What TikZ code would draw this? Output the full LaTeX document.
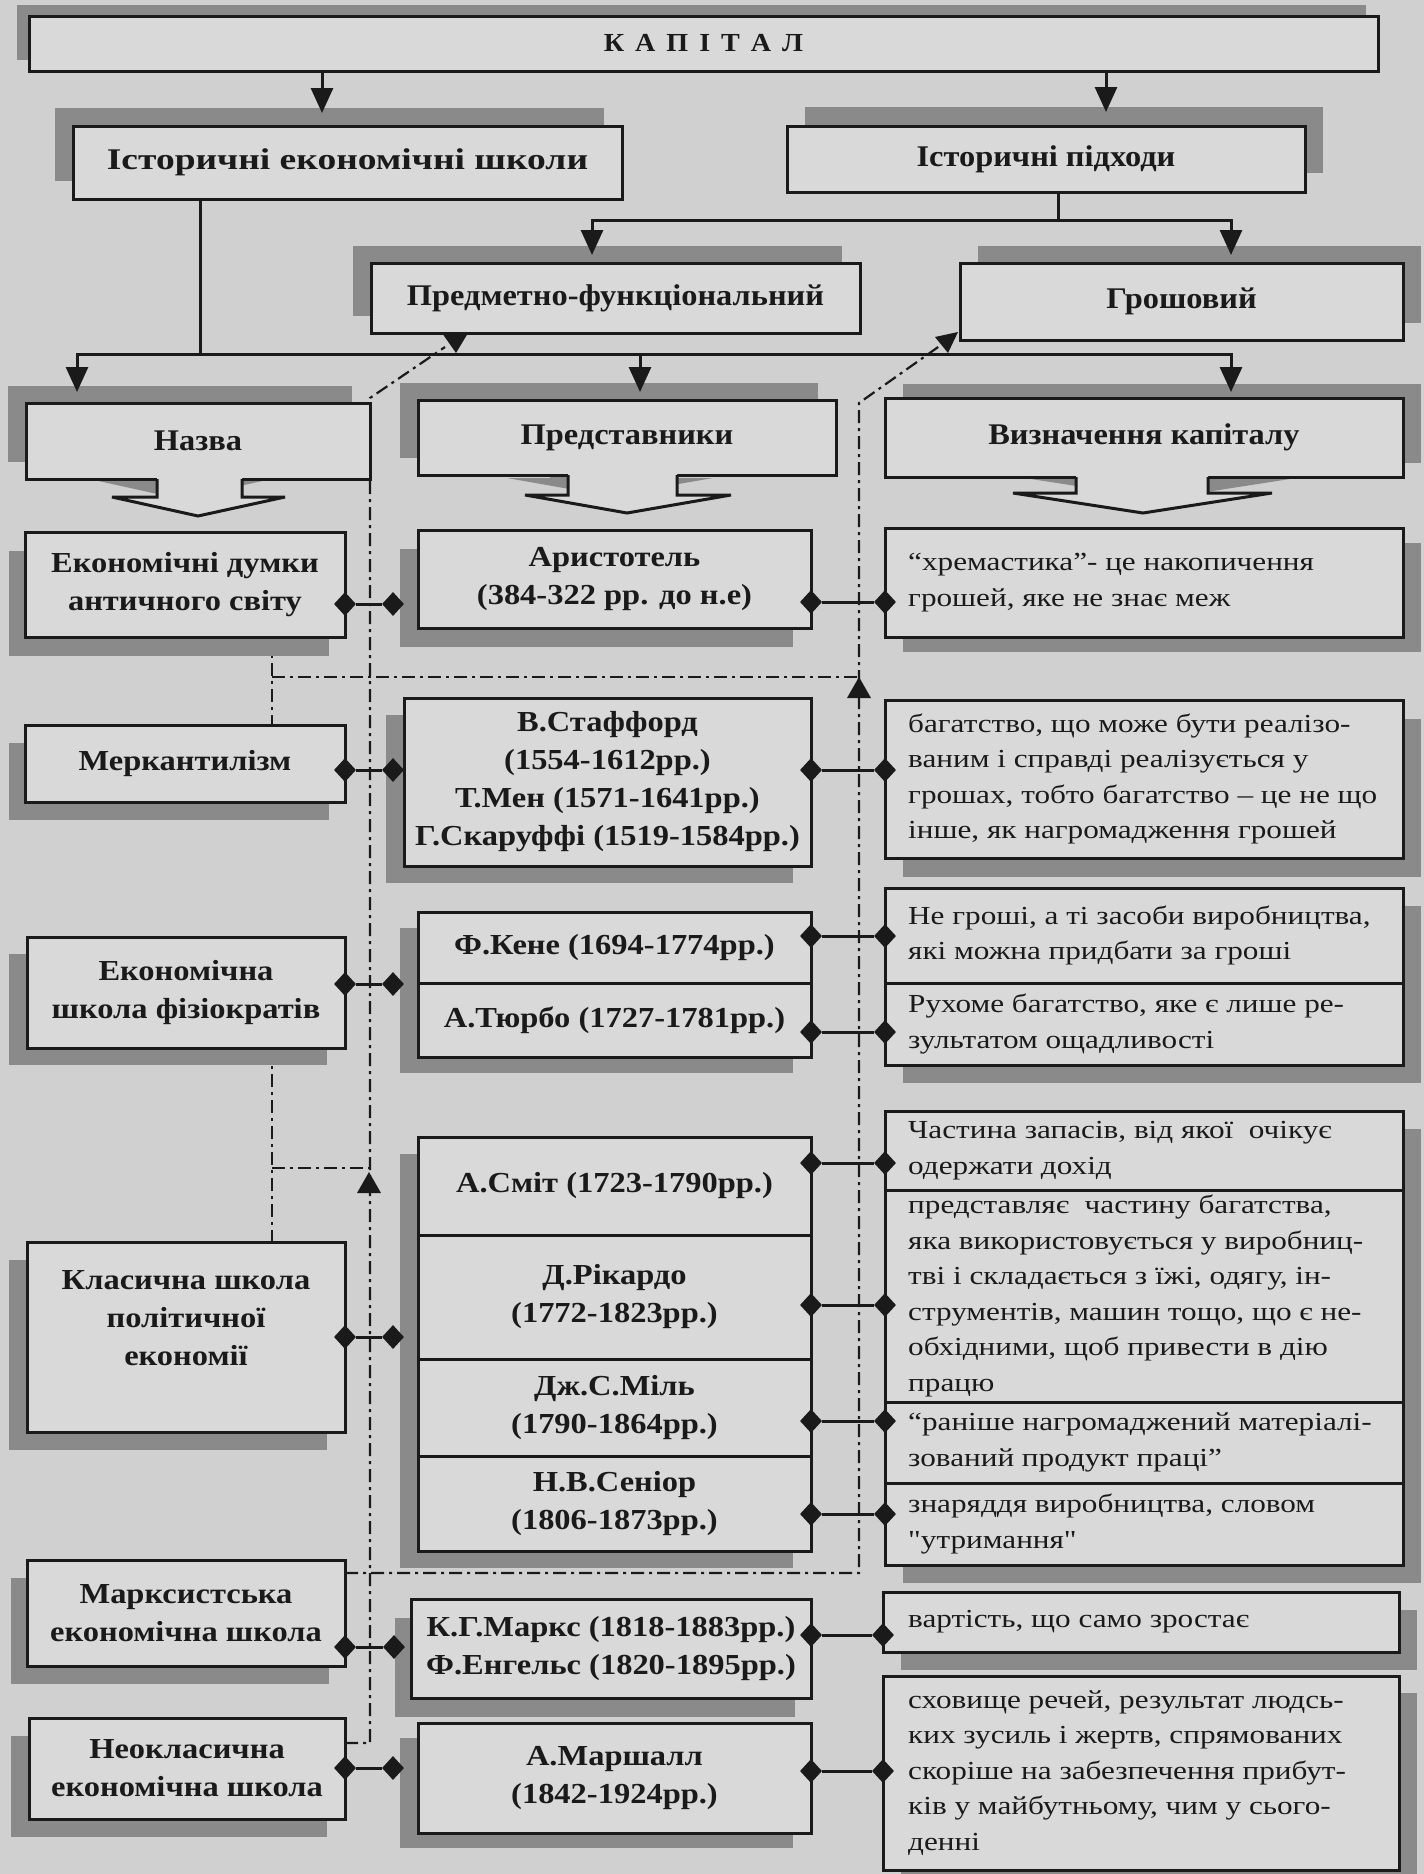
\documentclass[tikz,border=0pt]{standalone}
\usepackage{fontspec}
\setmainfont{Liberation Serif}
\newfontfamily\hdrfont[FakeStretch=1.08]{Liberation Serif}
\newfontfamily\hdrwide[FakeStretch=1.25]{Liberation Serif}
\newfontfamily\bodyfont[FakeStretch=1.12]{Liberation Serif}
\newfontfamily\regfont[FakeStretch=1.2]{Liberation Serif}
\usetikzlibrary{shapes.geometric,arrows.meta}
\definecolor{bgc}{HTML}{D0D0D0}
\definecolor{boxc}{HTML}{D9D9D9}
\definecolor{shc}{HTML}{8A8A8A}
\definecolor{ink}{HTML}{1A1A1A}
\pgfdeclarelayer{bgl}
\pgfdeclarelayer{ddl}
\pgfdeclarelayer{shl}
\pgfsetlayers{bgl,ddl,shl,main}
\tikzset{
  box/.style={draw=ink, line width=3pt, fill=boxc, inner sep=0pt, outer sep=0pt, align=center, text=ink},
  hdr/.style={font=\hdrfont\bfseries\fontsize{30}{37}\selectfont},
  hdrw/.style={font=\hdrwide\bfseries\fontsize{30}{37}\selectfont},
  kapf/.style={font=\hdrfont\bfseries\fontsize{26}{30}\selectfont},
  lb/.style={font=\bodyfont\bfseries\fontsize{29}{38}\selectfont},
  rtxt/.style={font=\regfont\fontsize{26}{35.5}\selectfont, align=left, anchor=west, inner sep=0pt, text=ink},
  dia/.style={diamond, fill=ink, minimum width=22pt, minimum height=24pt, inner sep=0pt},
  conn/.style={draw=ink, line width=3pt},
  tipa/.style={conn, -{Triangle[width=22pt,length=25pt]}},
  tipb/.style={conn, {Triangle[width=22pt,length=25pt]}-{Triangle[width=22pt,length=25pt]}},
  dd/.style={draw=ink, line width=2.2pt, dash pattern=on 13pt off 5pt on 3pt off 5pt},
  shfill/.style={fill=shc},
  barr/.style={draw=ink, line width=3pt, miter limit=4},
}
\newcommand\bx[6][]{\node[box,#1,minimum width={#4-#2},minimum height={#5-#3}] (#6) at ({(#2+#4)/2},{(#3+#5)/2})}
\newcommand\shd[4]{\begin{pgfonlayer}{shl}\fill[shfill] ([shift={(#3,#4)}]#1.north west) rectangle ([shift={(#3,#4)}]#2.south east);\end{pgfonlayer}}
\newcommand\dc[4]{\node[dia] (#1a) at (#2,#4) {}; \node[dia] (#1b) at (#3,#4) {}; \draw[conn] (#1a) -- (#1b);}
\begin{document}
\begin{tikzpicture}[x=1pt,y=-1pt]
\useasboundingbox (0,0) rectangle (1424,1874);
\begin{pgfonlayer}{bgl}\fill[bgc] (0,0) rectangle (1424,1874);\end{pgfonlayer}

% ---------- header boxes
\bx[kapf]{29}{16}{1378}{71}{kap} {К\hspace{11pt}А\hspace{11pt}П\hspace{11pt}І\hspace{11pt}Т\hspace{11pt}А\hspace{11pt}Л};
\shd{kap}{kap}{-12}{-11}
\bx[hdrw]{73}{126}{622}{199}{ies} {Історичні економічні школи};
\shd{ies}{ies}{-18}{-18}
\bx[hdr]{787}{126}{1305}{192}{ip} {Історичні підходи};
\shd{ip}{ip}{18}{-19}
\bx[hdr]{371}{263}{860}{333}{pf} {Предметно-функціональний};
\shd{pf}{pf}{-18}{-17}
\bx[hdr]{960}{263}{1403}{340}{gr} {Грошовий};
\shd{gr}{gr}{18}{-17}

% ---------- column headers with block arrows
\bx[hdr]{26}{403}{370}{479}{nz} {Назва};
\shd{nz}{nz}{-18}{-17}
\begin{pgfonlayer}{shl}\fill[shfill,shift={(-18,-17)}] (157,479) -- (157,497) -- (112,497) -- (198,516) -- (285,497) -- (242,497) -- (242,479) -- cycle;\end{pgfonlayer}
\fill[boxc] (157,477.5) -- (157,497) -- (112,497) -- (198,516) -- (285,497) -- (242,497) -- (242,477.5) -- cycle;
\draw[barr] (nz.south -| 157,0) -- (157,497) -- (112,497) -- (198,516) -- (285,497) -- (242,497) -- (nz.south -| 242,0);

\bx[hdr]{418}{400}{836}{475}{pr} {Представники};
\shd{pr}{pr}{-18}{-17}
\begin{pgfonlayer}{shl}\fill[shfill,shift={(-18,-17)}] (568,475) -- (568,495) -- (525,495) -- (627,513) -- (731,495) -- (677,495) -- (677,475) -- cycle;\end{pgfonlayer}
\fill[boxc] (568,473.5) -- (568,495) -- (525,495) -- (627,513) -- (731,495) -- (677,495) -- (677,473.5) -- cycle;
\draw[barr] (pr.south -| 568,0) -- (568,495) -- (525,495) -- (627,513) -- (731,495) -- (677,495) -- (pr.south -| 677,0);

\bx[hdr]{885}{398}{1403}{477}{vz} {Визначення капіталу};
\shd{vz}{vz}{18}{-14}
\begin{pgfonlayer}{shl}\fill[shfill,shift={(18,-14)}] (1076,477) -- (1076,493) -- (1013,493) -- (1143,513) -- (1272,493) -- (1208,493) -- (1208,477) -- cycle;\end{pgfonlayer}
\fill[boxc] (1076,475.5) -- (1076,493) -- (1013,493) -- (1143,513) -- (1272,493) -- (1208,493) -- (1208,475.5) -- cycle;
\draw[barr] (vz.south -| 1076,0) -- (1076,493) -- (1013,493) -- (1143,513) -- (1272,493) -- (1208,493) -- (vz.south -| 1208,0);

% ---------- row 1
\bx[lb]{25}{532}{345}{637}{edum} {Економічні думки\\античного світу};
\shd{edum}{edum}{-16}{19}
\bx[lb]{418}{530}{811}{628}{arist} {Аристотель\\(384-322 рр. до н.е)};
\shd{arist}{arist}{-18}{19}
\bx{885}{528}{1403}{637}{hrem} {};
\shd{hrem}{hrem}{18}{15}
\node[rtxt] (threm) at ([xshift=23pt]hrem.west) {“хремастика”- це накопичення\\грошей, яке не знає меж};

% ---------- row 2
\bx[lb]{25}{725}{345}{802}{merk} {Меркантилізм};
\shd{merk}{merk}{-16}{18}
\bx[lb]{404}{698}{811}{866}{staf} {В.Стаффорд\\(1554-1612рр.)\\Т.Мен (1571-1641рр.)\\Г.Скаруффі (1519-1584рр.)};
\shd{staf}{staf}{-18}{17}
\bx{885}{700}{1403}{858}{bag} {};
\shd{bag}{bag}{18}{19}
\node[rtxt] (tbag) at ([xshift=23pt]bag.west) {багатство, що може бути реалізо-\\ваним і справді реалізується у\\грошах, тобто багатство – це не що\\інше, як нагромадження грошей};

% ---------- row 3
\bx[lb]{27}{937}{345}{1048}{fiz} {Економічна\\школа фізіократів};
\shd{fiz}{fiz}{-18}{17}
\bx[lb]{418}{912}{811}{983}{kene} {Ф.Кене (1694-1774рр.)};
\shd{kene}{kene}{-18}{16}
\bx[lb]{418}{983}{811}{1057}{turb} {А.Тюрбо (1727-1781рр.)};
\shd{turb}{turb}{-18}{16}
\bx{885}{888}{1403}{983}{negr} {};
\shd{negr}{negr}{18}{18}
\bx{885}{983}{1403}{1065}{ruh} {};
\shd{ruh}{ruh}{18}{18}
\node[rtxt] (tnegr) at ([xshift=23pt]negr.west) {Не гроші, а ті засоби виробництва,\\які можна придбати за гроші};
\node[rtxt] (truh) at ([xshift=23pt]ruh.west) {Рухоме багатство, яке є лише ре-\\зультатом ощадливості};

% ---------- row 4
\bx[lb]{27}{1242}{345}{1432}{klas} {Класична школа\\політичної\\економії\\[0pt]};
\shd{klas}{klas}{-18}{18}
\bx[lb]{418}{1137}{811}{1235}{smit} {А.Сміт (1723-1790рр.)};
\shd{smit}{smit}{-18}{17}
\bx[lb]{418}{1235}{811}{1359}{rik} {Д.Рікардо\\(1772-1823рр.)};
\shd{rik}{rik}{-18}{17}
\bx[lb]{418}{1359}{811}{1456}{mil} {Дж.С.Міль\\(1790-1864рр.)};
\shd{mil}{mil}{-18}{17}
\bx[lb]{418}{1456}{811}{1551}{sen} {Н.В.Сеніор\\(1806-1873рр.)};
\shd{sen}{sen}{-18}{17}
\bx{885}{1111}{1403}{1190}{chas} {};
\shd{chas}{chas}{18}{18}
\bx{885}{1190}{1403}{1402}{prd} {};
\shd{prd}{prd}{18}{18}
\bx{885}{1402}{1403}{1483}{ran} {};
\shd{ran}{ran}{18}{18}
\bx{885}{1483}{1403}{1565}{znr} {};
\shd{znr}{znr}{18}{18}
\node[rtxt] (tchas) at ([xshift=23pt]chas.west) {Частина запасів, від якої\ \ очікує\\одержати дохід};
\node[rtxt] (tprd) at ([xshift=23pt]prd.west) {представляє\ \ частину багатства,\\яка використовується у виробниц-\\тві і складається з їжі, одягу, ін-\\струментів, машин тощо, що є не-\\обхідними, щоб привести в дію\\працю};
\node[rtxt] (tran) at ([xshift=23pt]ran.west) {“раніше нагромаджений матеріалі-\\зований продукт праці”};
\node[rtxt] (tznr) at ([xshift=23pt]znr.west) {знаряддя виробництва, словом\\"утримання"};

% ---------- row 5
\bx[lb]{27}{1560}{345}{1666}{mxs} {Марксистська\\економічна школа};
\shd{mxs}{mxs}{-16}{18}
\bx[lb]{411}{1599}{811}{1698}{marx} {К.Г.Маркс (1818-1883рр.)\\Ф.Енгельс (1820-1895рр.)};
\shd{marx}{marx}{-16}{19}
\bx{883}{1592}{1399}{1652}{vart} {};
\shd{vart}{vart}{18}{18}
\node[rtxt] (tvart) at ([xshift=25pt]vart.west) {вартість, що само зростає};

% ---------- row 6
\bx[lb]{29}{1718}{345}{1819}{neo} {Неокласична\\економічна школа};
\shd{neo}{neo}{-18}{18}
\bx[lb]{418}{1723}{811}{1833}{marsh} {А.Маршалл\\(1842-1924рр.)};
\shd{marsh}{marsh}{-18}{15}
\bx{883}{1676}{1399}{1870}{sxov} {};
\shd{sxov}{sxov}{18}{17}
\node[rtxt] (tsxov) at ([xshift=25pt]sxov.west) {сховище речей, результат людсь-\\ких зусиль і жертв, спрямованих\\скоріше на забезпечення прибут-\\ків у майбутньому, чим у сього-\\денні};

% ---------- solid connectors
\draw[tipa] (kap.south -| 322,0) -- (322,113);
\draw[tipa] (kap.south -| 1106,0) -- (1106,112);
\draw[conn] (ip.south -| 1058,0) -- (1058,220);
\draw[tipb] (592,255) -- (592,220) -- (1231,220) -- (1231,255);
\draw[conn] (ies.south -| 200,0) -- (200,354);
\draw[tipb] (77,392) -- (77,354) -- (1231,354) -- (1231,392);
\draw[tipa] (640,354) -- (640,392);

% ---------- dash-dot links
\begin{pgfonlayer}{ddl}
\draw[dd] (neo.east |- 0,1743) -- (370,1743) -- (370,398) -- (445,347);
\draw[dd] (mxs.east |- 0,1573) -- (859,1573) -- (859,403) -- (941,345);
\draw[dd] (edum.south -| 272,0) -- (merk.north -| 272,0);
\draw[dd] (272,677) -- (859,677);
\draw[dd] (fiz.south -| 272,0) -- (klas.north -| 272,0);
\draw[dd] (272,1168) -- (369,1168);
\end{pgfonlayer}
\fill[ink] (442,333) -- (468,333) -- (456,353) -- cycle;
\fill[ink] (958,332) -- (935,337) -- (948,353) -- cycle;
\fill[ink] (859,677) -- (847,698) -- (871,698) -- cycle;
\fill[ink] (369,1172) -- (357,1193) -- (381,1193) -- cycle;

% ---------- diamond links
\dc{l1}{345}{393}{604}
\dc{r1}{811}{885}{602}
\dc{l2}{345}{393}{770}
\dc{r2}{811}{885}{770}
\dc{l3}{345}{393}{984}
\dc{r3}{811}{885}{936}
\dc{r4}{811}{885}{1032}
\dc{l4}{345}{393}{1337}
\dc{r5}{811}{885}{1163}
\dc{r6}{811}{885}{1305}
\dc{r7}{811}{885}{1421}
\dc{r8}{811}{885}{1514}
\dc{l5}{345}{394}{1647}
\dc{r9}{811}{883}{1635}
\dc{l6}{345}{393}{1768}
\dc{r10}{811}{883}{1771}
\end{tikzpicture}
\end{document}
